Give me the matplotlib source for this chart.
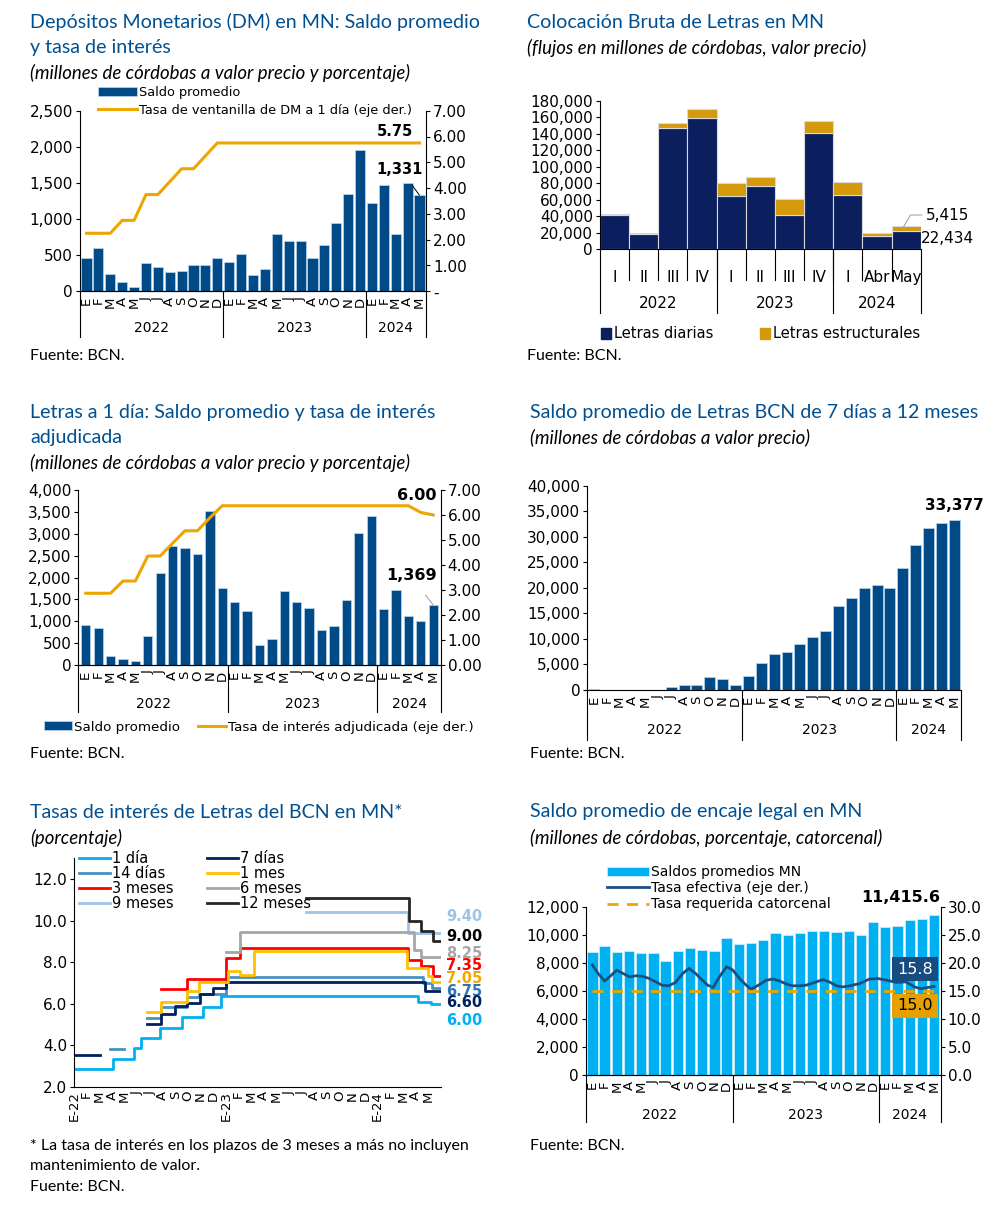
import numpy as np
import matplotlib
matplotlib.use('Agg')
import matplotlib.pyplot as plt
import matplotlib.transforms as mtransforms
from matplotlib.patches import Patch
from matplotlib.ticker import FuncFormatter

plt.rcParams['font.family'] = ['DejaVu Sans']

# ---------------- data ----------------
months = ['E', 'F', 'M', 'A', 'M', 'J', 'J', 'A', 'S', 'O', 'N', 'D'] * 2 + ['E', 'F', 'M', 'A', 'M']
years = ['2022', '2023', '2024']
year_sizes = [12, 12, 5]

# Depositos monetarios
dm_saldo = [455, 595, 240, 125, 65, 392, 341, 268, 281, 360, 360, 461,
            401, 512, 226, 309, 793, 701, 701, 466, 646, 941, 1347, 1956,
            1222, 1467, 793, 1499, 1331]
dm_tasa = [2.25, 2.25, 2.25, 2.75, 2.75, 3.75, 3.75, 4.25, 4.75, 4.75, 5.25, 5.75,
           5.75, 5.75, 5.75, 5.75, 5.75, 5.75, 5.75, 5.75, 5.75, 5.75, 5.75, 5.75,
           5.75, 5.75, 5.75, 5.75, 5.75]

# Colocacion bruta de letras
col_cats = ['I', 'II', 'III', 'IV', 'I', 'II', 'III', 'IV', 'I', 'Abr', 'May']
col_year_sizes = [4, 4, 3]
col_diarias = [41166, 18969, 147309, 159417, 64977, 77085, 41973, 140448, 66188, 15740, 22434]
col_estruct = [1614, 1210, 5651, 10090, 14933, 10090, 18565, 14529, 15336, 3632, 5415]

# Letras a 1 dia
l1_saldo = [925, 853, 198, 145, 99, 655, 2095, 2712, 2667, 2537, 3520, 1752,
            1432, 1242, 457, 602, 1699, 1432, 1310, 800, 884, 1486, 3017, 3398,
            1280, 1714, 1112, 1013, 1369]
l1_tasa = [2.87, 2.87, 2.87, 3.36, 3.36, 4.36, 4.36, 4.87, 5.37, 5.37, 5.89, 6.37,
           6.37, 6.37, 6.37, 6.37, 6.37, 6.37, 6.37, 6.37, 6.37, 6.37, 6.37, 6.37,
           6.37, 6.37, 6.37, 6.10, 6.00]

# Letras 7 dias a 12 meses
lp_saldo = [196, 65, 30, 65, 20, 20, 560, 914, 914, 2480, 2088, 914,
            2741, 5285, 7047, 7374, 9070, 10310, 11485, 16378, 17945, 20033, 20489, 19902,
            23817, 28385, 31713, 32692, 33377]

# Tasas de interes de letras (step series: month position, rate)
rate_ticks = ['E-22', 'F', 'M', 'A', 'M', 'J', 'J', 'A', 'S', 'O', 'N', 'D',
              'E-23', 'F', 'M', 'A', 'M', 'J', 'J', 'A', 'S', 'O', 'N', 'D',
              'E-24', 'F', 'M', 'A', 'M']
t_1d = [0, 3.1, 4.75, 5.3, 6.8, 8.5, 10.2, 11.65, 27.2, 28.2, 28.9]
v_1d = [2.85, 3.35, 3.85, 4.35, 4.85, 5.35, 5.85, 6.35, 6.10, 6.00, 6.00]
t_7d = [0, 2.05, 5.8, 6.85, 7.95, 8.9, 9.95, 11.0, 12.0, 27.7, 28.9]
v_7d = [3.55, np.nan, 5.0, 5.5, 5.9, 6.05, 6.45, 6.75, 7.05, 6.6, 6.6]
t_14d = [2.85, 3.95, 5.8, 6.85, 8.9, 9.9, 12.0, 27.6, 28.3, 28.9]
v_14d = [3.8, np.nan, 5.3, 5.85, 6.3, 6.45, 7.3, 7.0, 6.75, 6.75]
t_1m = [5.8, 6.85, 8.9, 9.9, 12.2, 13.1, 14.2, 26.3, 27.95, 28.3, 28.9]
v_1m = [5.6, 6.1, 6.6, 7.05, 7.55, 7.4, 8.55, 7.7, 7.35, 7.05, 7.05]
t_3m = [6.85, 8.9, 12.0, 13.1, 26.4, 27.4, 28.4, 28.9]
v_3m = [6.7, 7.2, 8.2, 8.7, 8.1, 7.8, 7.35, 7.35]
t_6m = [12.0, 13.1, 26.9, 27.4, 28.9]
v_6m = [8.5, 9.45, 8.6, 8.25, 8.25]
t_9m = [18.3, 26.4, 28.9]
v_9m = [10.4, 9.4, 9.4]
t_12m = [18.3, 26.5, 27.4, 28.4, 28.9]
v_12m = [11.1, 10.0, 9.5, 9.0, 9.0]
end_labels = ['9.40', '9.00', '8.25', '7.35', '7.05', '6.75', '6.60', '6.00']
end_label_pos = [10.19, 9.23, 8.43, 7.84, 7.2, 6.6, 6.05, 5.2]

# Encaje legal
enc_saldo = [8768, 9172, 8768, 8816, 8721, 8721, 8103, 8840, 9053, 8911, 8816, 9743,
             9339, 9410, 9624, 10099, 9956, 10099, 10289, 10289, 10170, 10242, 9956, 10907,
             10574, 10622, 11050, 11145, 11415.6]
enc_tasa_x = [0, 0.46, 1.0, 1.55, 2.0, 2.5, 3.05, 3.6, 4.1, 4.65, 5.2, 5.7, 6.25, 6.8,
              7.4, 7.9, 8.45, 9.0, 9.45, 9.9, 10.4, 11.0, 11.5, 12.05, 12.6, 13.0, 13.6,
              14.25, 14.8, 15.35, 15.9, 16.4, 17.0, 17.5, 18.2, 18.9, 19.4, 20.0, 20.5,
              21.1, 21.9, 22.7, 23.4, 24.1, 24.9, 25.7, 26.4, 26.9, 27.5, 28.0]
enc_tasa = [19.6, 18.1, 16.75, 17.8, 18.7, 18.1, 17.5, 17.7, 17.6, 17.2, 16.6, 16.0, 15.9, 16.5,
            18.1, 19.0, 18.1, 16.9, 16.0, 15.6, 17.5, 19.3, 18.7, 17.2, 16.0, 15.3, 16.0,
            16.9, 17.1, 16.75, 16.2, 15.9, 15.9, 16.0, 16.5, 17.0, 16.6, 15.9, 15.7,
            15.9, 16.3, 17.1, 17.2, 16.9, 16.5, 16.6, 15.7, 15.4, 15.6, 15.8]
enc_req = 15.0

# ---------------- style ----------------
W, H = 993, 1216
TITLE_C = '#005091'
BAR_C = '#004B87'
GOLD = '#EDA600'
TITLE_F = 'Lato'
TICK_FS = 11

fig = plt.figure(figsize=(W / 100, H / 100), dpi=100)


def box(l, t, r, b):
    return [l / W, 1 - b / H, (r - l) / W, (b - t) / H]


def fx(x):
    return x / W


def fy(y):
    return 1 - y / H


def head(x, y, lines, sub):
    for i, ln in enumerate(lines):
        fig.text(fx(x), fy(y + 25.5 * i), ln, fontsize=14.1, color=TITLE_C,
                 family=TITLE_F, va='center', ha='left')
    fig.text(fx(x), fy(y + 25.5 * len(lines)), sub, fontsize=13.4, style='italic',
             family=TITLE_F, va='center', ha='left')


def note(x, y, s):
    fig.text(fx(x), fy(y), s, fontsize=11.5, family=TITLE_F, va='center', ha='left')


def style_ax(ax):
    for s in ['top', 'right']:
        ax.spines[s].set_visible(False)
    ax.spines['left'].set_linewidth(0.8)
    ax.spines['bottom'].set_linewidth(0.8)
    ax.tick_params(axis='y', labelsize=TICK_FS, length=3, width=0.8, pad=2)


def style_right(ax):
    for s in ['top', 'left']:
        ax.spines[s].set_visible(False)
    ax.spines['right'].set_linewidth(0.8)
    ax.tick_params(axis='y', labelsize=TICK_FS, length=3, width=0.8, pad=2)


def comma(v, _):
    return f'{v:,.0f}'


def group_axis(ax, labels, sizes, names, sep_px, year_px, lab_fs=9.5):
    n = len(labels)
    ax.set_xticks(np.arange(n))
    ax.set_xticklabels(labels, rotation=90, fontsize=lab_fs)
    ax.tick_params(axis='x', length=0, pad=4)
    tr = mtransforms.blended_transform_factory(ax.transData, fig.transFigure)
    y0 = ax.get_position().y0
    x0, x1 = ax.get_xlim()
    edges = [-0.5]
    for g in sizes:
        edges.append(edges[-1] + g)
    edges[0], edges[-1] = x0, x1
    for e in edges:
        ax.plot([e, e], [y0, fy(sep_px)], transform=tr, color='black', lw=0.8, clip_on=False)
    for i, nm in enumerate(names):
        c = (edges[i] + edges[i + 1]) / 2
        ax.text(c, fy(year_px), nm, transform=tr, ha='center', va='center', fontsize=10)


# ================= Panel 1 =================
head(30, 22, ['Depósitos Monetarios (DM) en MN: Saldo promedio', 'y tasa de interés'],
     '(millones de córdobas a valor precio y porcentaje)')
ax1 = fig.add_axes(box(80, 110.7, 426, 291.3))
x = np.arange(len(dm_saldo))
b1 = ax1.bar(x, dm_saldo, width=0.85, color=BAR_C, edgecolor='#BDD7EE', linewidth=0.5)
ax1.set_xlim(-0.55, len(x) - 0.45)
ax1.set_ylim(0, 2500)
ax1.set_yticks(np.arange(0, 2501, 500))
ax1.yaxis.set_major_formatter(FuncFormatter(comma))
style_ax(ax1)
ax1r = ax1.twinx()
l1, = ax1r.plot(x, dm_tasa, color=GOLD, lw=2.2)
ax1r.set_ylim(0, 7)
ax1r.set_yticks(np.arange(0, 8, 1))
ax1r.yaxis.set_major_formatter(FuncFormatter(lambda v, _: '-' if v == 0 else f'{v:.2f}'))
style_right(ax1r)
group_axis(ax1, months, year_sizes, years, 337, 328)
ax1r.legend([b1, l1], ['Saldo promedio', 'Tasa de ventanilla de DM a 1 día (eje der.)'],
            loc='upper left', bbox_to_anchor=(fx(98), fy(86)), bbox_transform=fig.transFigure,
            frameon=False, fontsize=9.3, handlelength=3.0, handleheight=0.6, handletextpad=0.2,
            borderpad=0, borderaxespad=0, labelspacing=0.35)
ax1r.text(fx(395), fy(132), f'{dm_tasa[-1]:.2f}', transform=fig.transFigure, ha='center',
          va='center', fontsize=10.5, fontweight='bold')
ax1.annotate(f'{dm_saldo[-1]:,.0f}', xy=(x[-1], dm_saldo[-1]), xytext=(fx(400), fy(169)),
             textcoords='figure fraction', ha='center', va='center', fontsize=10.5,
             fontweight='bold', arrowprops=dict(arrowstyle='-', color='black', lw=0.7,
                                                shrinkA=6, shrinkB=0))
note(30, 356, 'Fuente: BCN.')

# ================= Panel 2 =================
head(527, 22, ['Colocación Bruta de Letras en MN'], '(flujos en millones de córdobas, valor precio)')
ax2 = fig.add_axes(box(600, 100.7, 920.7, 249.3))
xc = np.arange(len(col_cats))
ax2.bar(xc, col_diarias, width=1.0, color='#0B1F5E', edgecolor='#D9D9D9', linewidth=0.8)
ax2.bar(xc, col_estruct, bottom=col_diarias, width=1.0, color='#D49A0B',
        edgecolor='#D9D9D9', linewidth=0.8)
ax2.set_xlim(-0.5, len(xc) - 0.5)
ax2.set_ylim(0, 180000)
ax2.set_yticks(np.arange(0, 180001, 20000))
ax2.yaxis.set_major_formatter(FuncFormatter(comma))
style_ax(ax2)
ax2.set_xticks(xc)
ax2.set_xticklabels(col_cats, fontsize=11)
ax2.tick_params(axis='x', length=0, pad=15)
tr2 = mtransforms.blended_transform_factory(ax2.transData, fig.transFigure)
y02 = ax2.get_position().y0
for e in np.arange(0.5, len(xc) - 1, 1.0):
    ax2.plot([e, e], [y02, fy(280)], transform=tr2, color='black', lw=0.8, clip_on=False)
edges2 = np.concatenate([[-0.5], -0.5 + np.cumsum(col_year_sizes)])
for e in edges2:
    ax2.plot([e, e], [y02, fy(312.7)], transform=tr2, color='black', lw=0.8, clip_on=False)
for i, nm in enumerate(years):
    ax2.text((edges2[i] + edges2[i + 1]) / 2, fy(304), nm, transform=tr2, ha='center',
             va='center', fontsize=11)
ax2.annotate(f'{col_estruct[-1]:,.0f}', xy=(xc[-1] - 0.1, col_diarias[-1] + col_estruct[-1] - 1500),
             xytext=(fx(926), fy(215)), textcoords='figure fraction', ha='left', va='center',
             fontsize=11, arrowprops=dict(arrowstyle='-', color='#A6A6A6', lw=0.8,
                                          shrinkA=1, shrinkB=0,
                                          connectionstyle='angle,angleA=0,angleB=60,rad=0'))
ax2.text(xc[-1] + 0.5, col_diarias[-1], f'{col_diarias[-1]:,.0f}', ha='left', va='top',
         fontsize=11)
fig.legend([Patch(color='#0B1F5E'), Patch(color='#D49A0B')],
           ['Letras diarias', 'Letras estructurales'], loc='center left',
           bbox_to_anchor=(fx(601), fy(334)), frameon=False, fontsize=10.5, ncol=2,
           handlelength=0.7, handleheight=0.7, handletextpad=0.2, columnspacing=3.2,
           borderpad=0, borderaxespad=0)
note(527, 356, 'Fuente: BCN.')

# ================= Panel 3 =================
head(30, 412, ['Letras a 1 día: Saldo promedio y tasa de interés', 'adjudicada'],
     '(millones de córdobas a valor precio y porcentaje)')
ax3 = fig.add_axes(box(78.3, 490, 440.7, 665))
x = np.arange(len(l1_saldo))
b3 = ax3.bar(x, l1_saldo, width=0.75, color=BAR_C, edgecolor='#BDD7EE', linewidth=0.5)
ax3.set_xlim(-0.6, len(x) - 0.4)
ax3.set_ylim(0, 4000)
ax3.set_yticks(np.arange(0, 4001, 500))
ax3.yaxis.set_major_formatter(FuncFormatter(comma))
style_ax(ax3)
ax3r = ax3.twinx()
l3, = ax3r.plot(x, l1_tasa, color=GOLD, lw=2.2)
ax3r.set_ylim(0, 7)
ax3r.set_yticks(np.arange(0, 8, 1))
ax3r.yaxis.set_major_formatter(FuncFormatter(lambda v, _: f'{v:.2f}'))
style_right(ax3r)
group_axis(ax3, months, year_sizes, years, 711.7, 704)
fig.legend([b3, l3], ['Saldo promedio', 'Tasa de interés adjudicada (eje der.)'],
           loc='center left', bbox_to_anchor=(fx(44), fy(727)), frameon=False, fontsize=9.7,
           ncol=2, handlelength=2.1, handleheight=0.6, handletextpad=0.15,
           columnspacing=1.3, borderpad=0, borderaxespad=0)
ax3r.annotate(f'{l1_tasa[-1]:.2f}', xy=(x[-1], l1_tasa[-1]), xytext=(fx(417), fy(496)),
              textcoords='figure fraction', ha='center', va='center', fontsize=11.5,
              fontweight='bold', arrowprops=dict(arrowstyle='-', color='#A6A6A6', lw=0.8,
                                                 shrinkA=7, shrinkB=0))
ax3.annotate(f'{l1_saldo[-1]:,.0f}', xy=(x[-1], l1_saldo[-1]), xytext=(fx(411), fy(576)),
             textcoords='figure fraction', ha='center', va='center', fontsize=11.5,
             fontweight='bold', arrowprops=dict(arrowstyle='-', color='#A6A6A6', lw=0.8,
                                                shrinkA=8, shrinkB=0))
note(30, 754, 'Fuente: BCN.')

# ================= Panel 4 =================
head(530, 412, ['Saldo promedio de Letras BCN de 7 días a 12 meses'],
     '(millones de córdobas a valor precio)')
ax4 = fig.add_axes(box(587.3, 485.7, 960.7, 690))
x = np.arange(len(lp_saldo))
ax4.bar(x, lp_saldo, width=0.85, color=BAR_C, edgecolor='#BDD7EE', linewidth=0.5)
ax4.set_xlim(-0.52, len(x) - 0.5)
ax4.set_ylim(0, 40000)
ax4.set_yticks(np.arange(0, 40001, 5000))
ax4.yaxis.set_major_formatter(FuncFormatter(comma))
style_ax(ax4)
group_axis(ax4, months, year_sizes, years, 740, 730)
ax4.text(fx(954), fy(505), f'{lp_saldo[-1]:,.0f}', transform=fig.transFigure, ha='center',
         va='center', fontsize=11, fontweight='bold')
note(530, 754, 'Fuente: BCN.')

# ================= Panel 5 =================
head(30, 812, ['Tasas de interés de Letras del BCN en MN*'], '(porcentaje)')
ax5 = fig.add_axes(box(74, 858.3, 441, 1086.7))
series = [('1 día', t_1d, v_1d, '#00B0F0'), ('14 días', t_14d, v_14d, '#4A90C0'),
          ('3 meses', t_3m, v_3m, '#FF0000'), ('9 meses', t_9m, v_9m, '#9DC3E6'),
          ('7 días', t_7d, v_7d, '#002060'), ('1 mes', t_1m, v_1m, '#FFC000'),
          ('6 meses', t_6m, v_6m, '#A6A6A6'), ('12 meses', t_12m, v_12m, '#262626')]
handles = []
for name, t, v, c in series:
    h, = ax5.step(t, v, where='post', color=c, lw=2.0, label=name)
    handles.append(h)
ax5.set_xlim(0, 29)
ax5.set_ylim(2, 13)
ax5.set_yticks(np.arange(2, 13, 2))
ax5.yaxis.set_major_formatter(FuncFormatter(lambda v, _: f'{v:.1f}'))
style_ax(ax5)
ax5.set_xticks(np.arange(len(rate_ticks)))
ax5.set_xticklabels(rate_ticks, rotation=90, fontsize=9.5)
ax5.tick_params(axis='x', length=0, pad=3)
ax5.legend(handles, [s[0] for s in series], loc='upper left', ncol=2,
           bbox_to_anchor=(fx(79), fy(851)), bbox_transform=fig.transFigure, frameon=False,
           fontsize=10.5, handlelength=2.1, handletextpad=0.15, columnspacing=2.3,
           labelspacing=0.0, borderpad=0, borderaxespad=0)
end_colors = ['#9DC3E6', '#000000', '#A6A6A6', '#FF0000', '#F0A800', '#2E75B6', '#002060', '#00B0F0']
for lab, pos, c in zip(end_labels, end_label_pos, end_colors):
    ax5.text(29.4, pos, lab, ha='left', va='center', fontsize=10.5, fontweight='bold',
             color=c, clip_on=False)
note(30, 1146, '* La tasa de interés en los plazos de 3 meses a más no incluyen')
note(30, 1166, 'mantenimiento de valor.')
note(30, 1187, 'Fuente: BCN.')

# ================= Panel 6 =================
head(530, 812, ['Saldo promedio de encaje legal en MN'],
     '(millones de córdobas, porcentaje, catorcenal)')
ax6 = fig.add_axes(box(586, 906.7, 940.7, 1075))
x = np.arange(len(enc_saldo))
b6 = ax6.bar(x, enc_saldo, width=0.85, color='#00B0F0', edgecolor='#D6F2FD', linewidth=0.5)
ax6.set_xlim(-0.53, len(x) - 0.46)
ax6.set_ylim(0, 12000)
ax6.set_yticks(np.arange(0, 12001, 2000))
ax6.yaxis.set_major_formatter(FuncFormatter(comma))
style_ax(ax6)
ax6r = ax6.twinx()
l6, = ax6r.plot(enc_tasa_x, enc_tasa, color='#1B4F82', lw=2.0)
d6, = ax6r.plot([0, len(x) - 1], [enc_req, enc_req], color=GOLD, lw=2.0, dashes=(4, 3))
ax6r.set_ylim(0, 30)
ax6r.set_yticks(np.arange(0, 31, 5))
ax6r.yaxis.set_major_formatter(FuncFormatter(lambda v, _: f'{v:.1f}'))
style_right(ax6r)
group_axis(ax6, months, year_sizes, years, 1122, 1115)
ax6r.legend([b6, l6, d6], ['Saldos promedios MN', 'Tasa efectiva (eje der.)',
                           'Tasa requerida catorcenal'],
            loc='upper left', bbox_to_anchor=(fx(607), fy(865)), bbox_transform=fig.transFigure,
            frameon=False, fontsize=10, handlelength=3.0, handleheight=0.6, handletextpad=0.2,
            borderpad=0, borderaxespad=0, labelspacing=0.15)
ax6.text(fx(901), fy(898), f'{enc_saldo[-1]:,.1f}', transform=fig.transFigure, ha='center',
         va='center', fontsize=11.5, fontweight='bold')
ax6r.text(fx(915), fy(969), f'{enc_tasa[-1]:.1f}', transform=fig.transFigure, ha='center',
          va='center', fontsize=11.5, color='white',
          bbox=dict(boxstyle='square,pad=0.3', fc='#164C80', ec='none'))
ax6r.text(fx(915), fy(1006), f'{enc_req:.1f}', transform=fig.transFigure, ha='center',
          va='center', fontsize=11.5, color='black',
          bbox=dict(boxstyle='square,pad=0.3', fc='#E6A100', ec='none'))
note(530, 1146, 'Fuente: BCN.')

fig.savefig('out.png', dpi=100)
